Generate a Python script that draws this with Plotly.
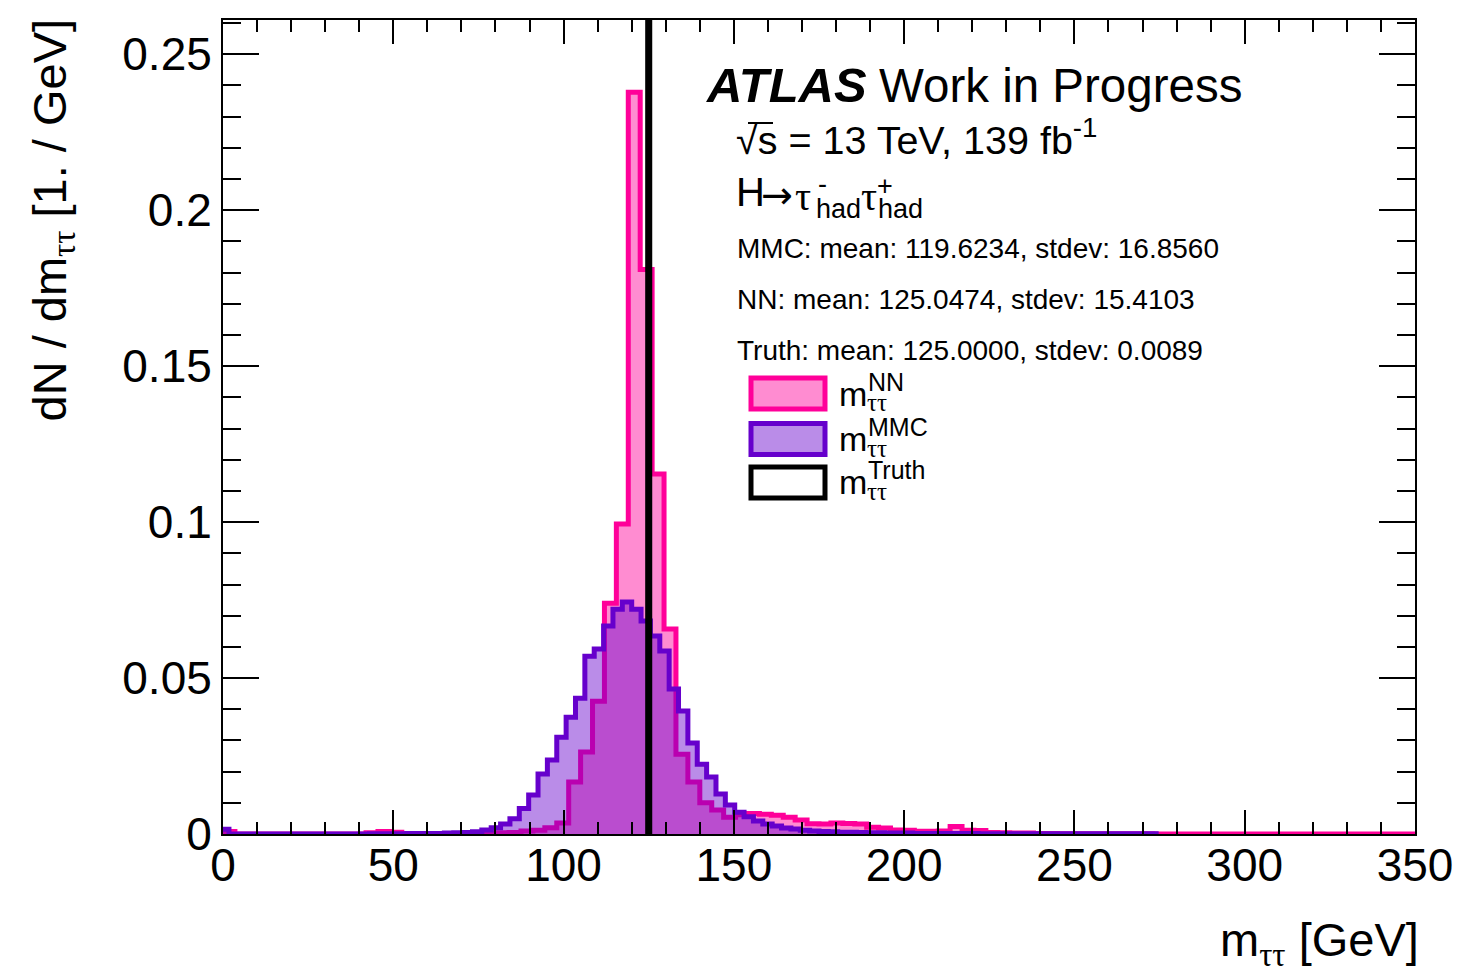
import plotly.graph_objects as go

# ---------------- data ----------------
# NN histogram: 100 bins of 3.5 GeV starting at 0 GeV (normalised, sum ~ 1)
nn_start = 0.0
nn_width = 3.5
nn_values = [
    0.0008, 0, 0, 0, 0, 0, 0, 0, 0, 0,
    0, 0, 0.0004, 0.0008, 0.0006, 0.0001, 0.0001, 0.0001, 0.0001, 0.0002,
    0.0002, 0.0002, 0.0003, 0.0004, 0.0005, 0.0010, 0.0012, 0.0020, 0.0035, 0.0167,
    0.0263, 0.0426, 0.0740, 0.0994, 0.2378, 0.1810, 0.1154, 0.0657, 0.0256, 0.0167,
    0.0100, 0.0077, 0.0054, 0.0062, 0.0066, 0.0063, 0.0060, 0.0054, 0.0045, 0.0033,
    0.0032, 0.0035, 0.0034, 0.0032, 0.0022, 0.0019, 0.0013, 0.0012, 0.0009, 0.0009,
    0.0010, 0.0024, 0.0012, 0.0011, 0.0005, 0.0004, 0.0003, 0.0003, 0.0002, 0.0002,
    0.0001, 0.0001, 0.0001, 0.0001, 0.0001, 0.0001, 0.0001, 0.0001, 0, 0,
    0, 0, 0, 0, 0, 0, 0, 0, 0, 0,
    0, 0, 0, 0, 0, 0, 0, 0, 0, 0,
]

# MMC histogram: 100 bins of 2.75 GeV starting at -1 GeV
mmc_start = -1.0
mmc_width = 2.75
mmc_values = [
    0.0015, 0, 0, 0, 0, 0, 0, 0, 0, 0,
    0, 0, 0, 0, 0, 0, 0.0001, 0.0001, 0.0001, 0.0001,
    0.0002, 0.0002, 0.0002, 0.0002, 0.0003, 0.0004, 0.0005, 0.0007, 0.0013, 0.0020,
    0.0032, 0.0049, 0.0082, 0.0125, 0.0192, 0.0237, 0.0310, 0.0374, 0.0435, 0.0570,
    0.0593, 0.0667, 0.0721, 0.0744, 0.0721, 0.0683, 0.0635, 0.0587, 0.0465, 0.0394,
    0.0292, 0.0224, 0.0183, 0.0128, 0.0093, 0.0070, 0.0055, 0.0042, 0.0032, 0.0026,
    0.0019, 0.0016, 0.0012, 0.0010, 0.0008, 0.0007, 0.0006, 0.0006, 0.0005, 0.0004,
    0.0004, 0.0003, 0.0003, 0.0003, 0.0002, 0.0002, 0.0002, 0.0002, 0.0002, 0.0002,
    0.0002, 0.0001, 0.0001, 0.0001, 0.0001, 0.0001, 0.0001, 0.0001, 0.0001, 0.0001,
    0.0001, 0.0001, 0.0001, 0.0001, 0.0001, 0.0001, 0.0001, 0.0001, 0.0001, 0.0001,
]

# Truth: all entries in one narrow bin at 125 GeV
truth_edges = [124.7, 125.3]
truth_values = [1.0]

stats_lines = [
    "MMC: mean: 119.6234, stdev: 16.8560",
    "NN: mean: 125.0474, stdev: 15.4103",
    "Truth: mean: 125.0000, stdev: 0.0089",
]
legend_labels = ["NN", "MMC", "Truth"]

# ---------------- styling ----------------
FONT = "Liberation Sans, Arial, Helvetica, sans-serif"
SERIF = "Liberation Serif, Times New Roman, serif"
NN_LINE = "#ff0099"
NN_FILL = "rgba(255,0,153,0.45)"
MMC_LINE = "#6600cc"
MMC_FILL = "rgba(102,0,204,0.45)"

W, H = 1460, 974
X0, X1, Y0, Y1 = 223, 1415, 20, 834  # plot area in pixels


def edges_from(start, width, n):
    return [start + width * i for i in range(n + 1)]


def step_xy(edges, values):
    x = [edges[0]] + list(edges[:-1]) + [edges[-1], edges[-1]]
    y = [0] + list(values) + [values[-1], 0]
    return x, y


def px2paper(px, py):
    return (px - X0) / (X1 - X0), (Y1 - py) / (Y1 - Y0)


fig = go.Figure()

for start, width, vals, lc, fc in [
    (nn_start, nn_width, nn_values, NN_LINE, NN_FILL),
    (mmc_start, mmc_width, mmc_values, MMC_LINE, MMC_FILL),
]:
    ex, ey = step_xy(edges_from(start, width, len(vals)), vals)
    fig.add_trace(go.Scatter(x=ex, y=ey, mode="lines",
                             line=dict(shape="hv", color=lc, width=5),
                             fill="tozeroy", fillcolor=fc,
                             showlegend=False, hoverinfo="skip"))

tx, ty = step_xy(truth_edges, truth_values)
fig.add_trace(go.Scatter(x=tx, y=ty, mode="lines",
                         line=dict(shape="hv", color="black", width=5),
                         showlegend=False, hoverinfo="skip"))

annotations = []
shapes = []


def ann(text, px, py, size, xanchor="left", yanchor="middle", family=FONT, angle=0):
    x, y = px2paper(px, py)
    annotations.append(dict(text=text, x=x, y=y, xref="paper", yref="paper",
                            xanchor=xanchor, yanchor=yanchor, showarrow=False,
                            textangle=angle, borderpad=0,
                            font=dict(family=family, size=size, color="black")))


# ATLAS label
ann("<b><i>ATLAS</i></b>", 705, 85, 49)
ann("Work in Progress", 878, 85, 47.5)
ann("\u221as = 13 TeV, 139 fb<sup>-1</sup>", 735, 137, 39.5)
# overline of the square root
xa, ya = px2paper(748, 123)
xb, yb = px2paper(773, 123)
shapes.append(dict(type="line", xref="paper", yref="paper", x0=xa, x1=xb, y0=ya, y1=yb,
                   line=dict(color="black", width=2)))
ann("H", 735, 192, 40)
ann("\u2192", 760, 195, 38, family="DejaVu Sans, sans-serif")
ann("\u03c4", 794, 196, 40, family=SERIF)
ann("had", 815, 209, 27)
ann("-", 817, 184, 27)
ann("\u03c4", 860, 196, 40, family=SERIF)
ann("had", 877, 209, 27)
ann("+", 876, 186, 27)

for i, line in enumerate(stats_lines):
    ann(line, 736, 248 + 51 * i, 28)

# custom legend
box_fill = [NN_FILL, MMC_FILL, "white"]
box_line = [NN_LINE, MMC_LINE, "black"]
box_centers = [393.5, 439.0, 482.5]
for lab, fcol, lcol, cy in zip(legend_labels, box_fill, box_line, box_centers):
    xa, ya = px2paper(751, cy - 15.5)
    xb, yb = px2paper(825, cy + 15.5)
    shapes.append(dict(type="rect", xref="paper", yref="paper",
                       x0=xa, x1=xb, y0=yb, y1=ya,
                       fillcolor=fcol, line=dict(color=lcol, width=5)))
    ann("m", 838, cy, 34)
    ann(lab, 867, cy - 12, 25)
    ann("\u03c4\u03c4", 866, cy + 9, 25, family=SERIF)

# axis titles
TAU_SUB = "<sub><span style='font-family:Liberation Serif'>\u03c4\u03c4</span></sub>"
ann("m" + TAU_SUB + " [GeV]", 1420, 943, 47, xanchor="right")
ann("dN / dm" + TAU_SUB + " [1. / GeV]", 53, 18, 47, xanchor="center", yanchor="top", angle=-90)

axis_common = dict(showgrid=False, zeroline=False, showline=True, linecolor="black",
                   linewidth=2, mirror="ticks", ticks="inside", tickcolor="black",
                   tickwidth=2, automargin=False,
                   tickfont=dict(family=FONT, size=46, color="black"))

fig.update_layout(
    width=W, height=H, autosize=False,
    margin=dict(l=X0, r=W - X1, t=Y0, b=H - Y1, pad=0, autoexpand=False),
    paper_bgcolor="white", plot_bgcolor="white",
    xaxis=dict(range=[0, 350], tick0=0, dtick=50, ticklen=24,
               minor=dict(dtick=10, ticks="inside", ticklen=12, tickwidth=2, tickcolor="black"),
               ticklabelstandoff=-10, **axis_common),
    yaxis=dict(range=[0, 0.261], tick0=0, dtick=0.05, ticklen=36,
               minor=dict(dtick=0.01, ticks="inside", ticklen=18, tickwidth=2, tickcolor="black"),
               ticklabelstandoff=0, **axis_common),
    annotations=annotations,
    shapes=shapes,
    showlegend=False,
)

fig.write_html("out.html", config={"responsive": False})
